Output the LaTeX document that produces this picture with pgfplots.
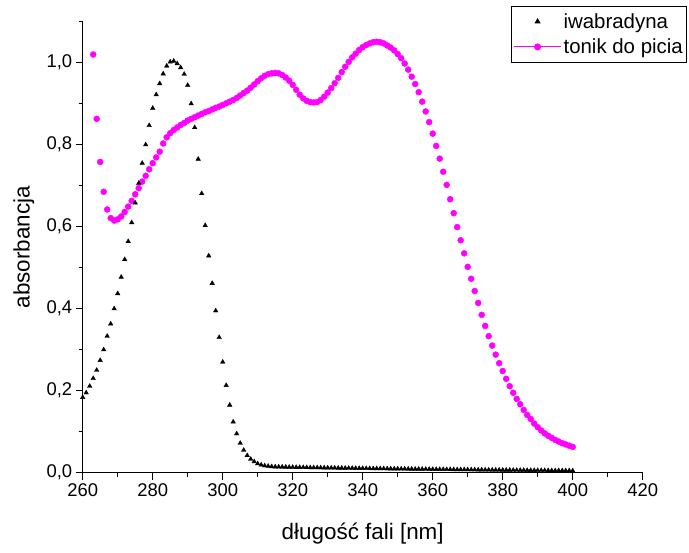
\documentclass[border=0pt]{standalone}
\usepackage{fontspec}
\setmainfont{Liberation Sans}
\usepackage{pgfplots}
\pgfplotsset{compat=1.18}
\definecolor{tonikpink}{RGB}{255,0,255}

\pgfplotstableread{
x y
260 0.184
261 0.195
262 0.211
263 0.230
264 0.250
265 0.274
266 0.300
267 0.333
268 0.363
269 0.400
270 0.437
271 0.477
272 0.520
273 0.564
274 0.610
275 0.658
276 0.706
277 0.755
278 0.800
279 0.847
280 0.889
281 0.922
282 0.949
283 0.973
284 0.992
285 1.002
286 1.004
287 0.998
288 0.988
289 0.972
290 0.945
291 0.900
292 0.842
293 0.765
294 0.681
295 0.603
296 0.529
297 0.462
298 0.395
299 0.330
300 0.270
301 0.213
302 0.165
303 0.124
304 0.095
305 0.072
306 0.055
307 0.042
308 0.033
309 0.027
310 0.022
311 0.019
312 0.017
313 0.016
314 0.015
315 0.0145
316 0.0142
317 0.0140
318 0.0138
319 0.0136
320 0.0134
321 0.0132
322 0.0130
323 0.0129
324 0.0127
325 0.0126
326 0.0124
327 0.0123
328 0.0121
329 0.0120
330 0.0118
331 0.0117
332 0.0116
333 0.0114
334 0.0113
335 0.0112
336 0.0111
337 0.0109
338 0.0108
339 0.0107
340 0.0106
341 0.0104
342 0.0103
343 0.0102
344 0.0101
345 0.0100
346 0.0099
347 0.0097
348 0.0096
349 0.0095
350 0.0094
351 0.0093
352 0.0092
353 0.0091
354 0.0090
355 0.0089
356 0.0088
357 0.0087
358 0.0086
359 0.0085
360 0.0084
361 0.0083
362 0.0082
363 0.0081
364 0.0080
365 0.0079
366 0.0078
367 0.0077
368 0.0076
369 0.0075
370 0.0074
371 0.0073
372 0.0072
373 0.0071
374 0.0070
375 0.0069
376 0.0068
377 0.0067
378 0.0066
379 0.0066
380 0.0065
381 0.0064
382 0.0063
383 0.0062
384 0.0061
385 0.0060
386 0.0060
387 0.0059
388 0.0058
389 0.0057
390 0.0056
391 0.0055
392 0.0055
393 0.0054
394 0.0053
395 0.0052
396 0.0052
397 0.0051
398 0.0050
399 0.0050
400 0.0049
}\iwabradyna

\pgfplotstableread{
x y
263 1.020
264 0.863
265 0.758
266 0.685
267 0.642
268 0.621
269 0.615
270 0.618
271 0.625
272 0.636
273 0.649
274 0.663
275 0.679
276 0.694
277 0.710
278 0.724
279 0.740
280 0.755
281 0.769
282 0.783
283 0.803
284 0.818
285 0.828
286 0.836
287 0.842
288 0.848
289 0.853
290 0.859
291 0.863
292 0.867
293 0.871
294 0.875
295 0.879
296 0.882
297 0.886
298 0.890
299 0.893
300 0.897
301 0.901
302 0.905
303 0.909
304 0.914
305 0.920
306 0.926
307 0.932
308 0.939
309 0.947
310 0.955
311 0.962
312 0.968
313 0.972
314 0.974
315 0.975
316 0.974
317 0.970
318 0.964
319 0.956
320 0.946
321 0.934
322 0.922
323 0.913
324 0.907
325 0.904
326 0.903
327 0.904
328 0.909
329 0.917
330 0.927
331 0.938
332 0.950
333 0.963
334 0.977
335 0.990
336 1.002
337 1.013
338 1.022
339 1.031
340 1.038
341 1.043
342 1.047
343 1.050
344 1.051
345 1.050
346 1.047
347 1.042
348 1.037
349 1.030
350 1.021
351 1.011
352 0.998
353 0.983
354 0.966
355 0.948
356 0.928
357 0.905
358 0.881
359 0.855
360 0.827
361 0.797
362 0.766
363 0.734
364 0.702
365 0.667
366 0.633
367 0.599
368 0.567
369 0.535
370 0.502
371 0.473
372 0.443
373 0.414
374 0.385
375 0.358
376 0.333
377 0.310
378 0.288
379 0.267
380 0.248
381 0.229
382 0.211
383 0.195
384 0.180
385 0.167
386 0.153
387 0.141
388 0.131
389 0.120
390 0.111
391 0.103
392 0.096
393 0.090
394 0.085
395 0.080
396 0.076
397 0.072
398 0.069
399 0.066
400 0.063
}\tonik

\begin{document}
\begin{tikzpicture}
\begin{axis}[
  at={(0,0)}, anchor=south west,
  scale only axis, width=560bp, height=451bp,
  xmin=260, xmax=420, ymin=0, ymax=1.1,
  axis x line*=bottom, axis y line*=left,
  axis line style={black, line width=1.5bp},
  tick style={black, line width=1.5bp},
  tick align=outside,
  major tick length=7bp, minor tick length=4bp,
  xtick={260,280,...,420}, minor xtick={270,290,...,410},
  ytick={0,0.2,...,1.0}, minor ytick={0.1,0.3,...,1.1},
  /pgf/number format/assume math mode=true,
  xticklabel style={/pgf/number format/fixed, /pgf/number format/1000 sep={}},
  yticklabel style={/pgf/number format/fixed, /pgf/number format/fixed zerofill,
    /pgf/number format/precision=1, /pgf/number format/use comma},
  tick label style={font=\fontsize{18.5}{20}\selectfont},
  label style={font=\fontsize{22.5}{24}\selectfont},
  xlabel={długość fali [nm]},
  ylabel={absorbancja},
  xlabel style={at={(axis description cs:0.5,-0.134)}, anchor=center},
  ylabel style={at={(axis description cs:-0.105,0.5)}, anchor=center},
  clip=false,
  reverse legend,
  legend cell align=left,
  legend style={at={(axis description cs:1.0796,1.0348)}, anchor=north east,
    draw=black, line width=1bp, font=\fontsize{20.5}{22}\selectfont,
    inner xsep=2bp, inner ysep=5bp, row sep=5bp},
]
\addplot[only marks, mark=*, mark size=3bp, color=tonikpink,
  legend image code/.code={
    \draw[tonikpink, line width=1bp] (0bp,0bp) -- (47bp,0bp);
    \fill[tonikpink] (23.5bp,0bp) circle (3bp);}]
  table {\tonik};
\addlegendentry{tonik do picia}
\addplot[only marks, mark=triangle*, mark size=2.6bp, color=black,
  legend image code/.code={
    \draw[black, mark=triangle*, mark size=2.6bp] plot coordinates {(23.5bp,0bp)};}]
  table {\iwabradyna};
\addlegendentry{iwabradyna}
\end{axis}
\pgfresetboundingbox
\useasboundingbox (-82.7bp,-80.3bp) rectangle (606.3bp,472.7bp);
\end{tikzpicture}
\end{document}
